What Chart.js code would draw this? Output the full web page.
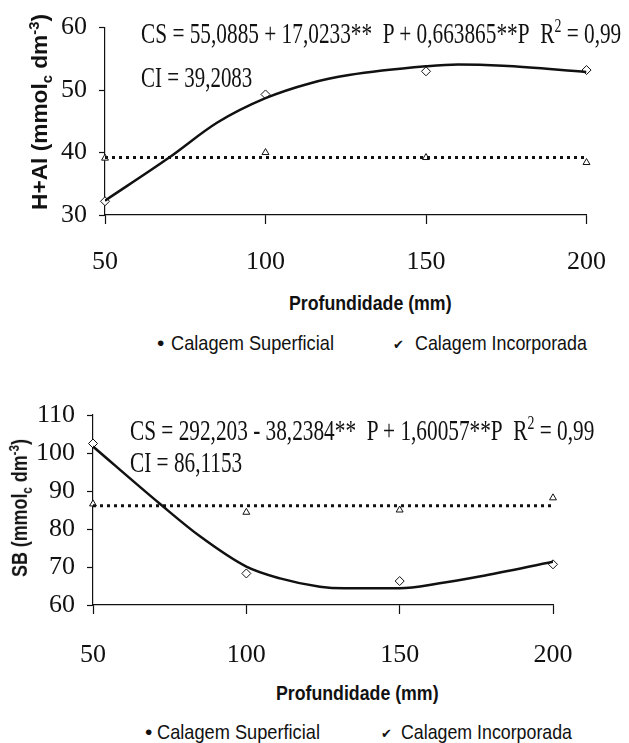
<!DOCTYPE html>
<html lang="pt">
  <head>
    <meta charset="UTF-8" />
    <style>
      body { margin: 0; background: #fff; }
      #page { position: relative; width: 629px; height: 743px; overflow: hidden; }
      canvas { position: absolute; left: 0; }
      .t { position: absolute; white-space: nowrap; color: #111; line-height: 1; }
      .serif { font-family: "Liberation Serif", "DejaVu Serif", serif; font-size: 30px; }
      .sans { font-family: "Liberation Sans Narrow", "Liberation Sans", Arial, sans-serif; font-size: 21px; }
      .bold { font-weight: bold; }
      .yt { font-size: 22px; }
      sub, sup { font-size: 65%; line-height: 0; }
    </style>
  </head>
  <body>
    <div id="page">
      <div id="box1" style="position:absolute;left:0;top:0;width:629px;height:290px">
        <canvas id="chart1"></canvas>
      </div>
      <div id="box2" style="position:absolute;left:0;top:380px;width:629px;height:300px">
        <canvas id="chart2"></canvas>
      </div>

      <div class="t serif" data-x="141" data-y="33" data-w="480">CS = 55,0885 + 17,0233**&nbsp; P + 0,663865**P&nbsp; R<sup>2</sup> = 0,99</div>
      <div class="t serif" data-x="141" data-y="77" data-w="111">CI = 39,2083</div>
      <div class="t sans bold yt" data-cx="40" data-y="112" data-w="196" data-rot="1">H+Al (mmol<sub>c</sub> dm<sup>-3</sup>)</div>
      <div class="t sans bold" data-cx="370" data-y="302" data-w="163">Profundidade (mm)</div>
      <div class="t sans" data-x="157" data-y="342">•</div>
      <div class="t sans" data-x="171" data-y="342" data-w="163">Calagem Superficial</div>
      <div class="t sans" style="font-size:13px" data-x="393" data-y="344">✔</div>
      <div class="t sans" data-x="415" data-y="342" data-w="172">Calagem Incorporada</div>

      <div class="t serif" data-x="130" data-y="430" data-w="464">CS = 292,203 - 38,2384**&nbsp; P + 1,60057**P&nbsp; R<sup>2</sup> = 0,99</div>
      <div class="t serif" data-x="130" data-y="462" data-w="112">CI = 86,1153</div>
      <div class="t sans bold yt" data-cx="20" data-y="508" data-w="138" data-rot="1">SB (mmol<sub>c</sub> dm<sup>-3</sup>)</div>
      <div class="t sans bold" data-cx="357" data-y="692" data-w="163">Profundidade (mm)</div>
      <div class="t sans" data-x="145" data-y="731">•</div>
      <div class="t sans" data-x="157" data-y="731" data-w="163">Calagem Superficial</div>
      <div class="t sans" style="font-size:13px" data-x="381" data-y="733">✔</div>
      <div class="t sans" data-x="401" data-y="731" data-w="171">Calagem Incorporada</div>
    </div>

    <script src="https://cdn.jsdelivr.net/npm/chart.js@4.4.1/dist/chart.umd.min.js"></script>
    <script>
      // profundidade (mm)
      const depth = [50, 100, 150, 200];

      // H+Al
      const hAlSuperficial = [32.2, 49.3, 53.0, 53.2];
      const hAlIncorporada = [39.1, 40.0, 39.2, 38.4];
      const hAlCurveX = [50, 70, 85, 100, 114, 126, 150, 160, 174, 200];
      const hAlCurveY = [32.3, 39.2, 44.8, 48.7, 51.1, 52.4, 53.8, 54.1, 53.9, 52.9];
      const hAlCI = 39.2083;

      // SB
      const sbSuperficial = [102.5, 68.3, 66.3, 70.7];
      const sbIncorporada = [86.6, 84.4, 85.0, 88.2];
      const sbCurveX = [50, 72, 85, 100, 111, 124, 132, 150, 163, 176, 200];
      const sbCurveY = [101.7, 86.5, 78.0, 70.1, 67.0, 64.8, 64.4, 64.4, 65.7, 67.5, 71.4];
      const sbCI = 86.1153;

      const serif = "'Liberation Serif', 'DejaVu Serif', serif";

      function pts(xs, ys) {
        return xs.map((x, i) => ({ x: x, y: ys[i] }));
      }

      function makeChart(id, cfg) {
        const ink = "#111";
        return new Chart(document.getElementById(id), {
          type: "scatter",
          data: {
            datasets: [
              {
                data: pts(cfg.curveX, cfg.curveY),
                showLine: true,
                borderColor: ink,
                borderWidth: 2.5,
                pointRadius: 0,
                cubicInterpolationMode: "monotone",
              },
              {
                data: pts([depth[0], depth[depth.length - 1]], [cfg.ci, cfg.ci]),
                showLine: true,
                borderColor: ink,
                borderWidth: 3,
                borderDash: [3, 4],
                pointRadius: 0,
              },
              {
                data: pts(depth, cfg.sup),
                clip: false,
                pointStyle: "rectRot",
                pointRadius: 4.5,
                pointBackgroundColor: "#fff",
                pointBorderColor: ink,
                pointBorderWidth: 1,
              },
              {
                data: pts(depth, cfg.inc),
                clip: false,
                pointStyle: "triangle",
                pointRadius: 4,
                pointBackgroundColor: "#fff",
                pointBorderColor: ink,
                pointBorderWidth: 1,
              },
            ],
          },
          options: {
            responsive: true,
            maintainAspectRatio: false,
            animation: false,
            layout: { padding: { left: 0, right: cfg.padRight, top: cfg.padTop, bottom: 0 } },
            plugins: { legend: { display: false }, tooltip: { enabled: false } },
            scales: {
              x: {
                type: "linear",
                min: 50,
                max: 200,
                afterFit: (s) => { s.height = cfg.xHeight; },
                border: { color: ink, width: 1.2 },
                grid: { drawOnChartArea: false, color: ink, tickLength: 9, tickWidth: 1.2 },
                ticks: {
                  stepSize: 50,
                  padding: cfg.xPad,
                  color: ink,
                  font: { family: serif, size: 26 },
                },
              },
              y: {
                min: cfg.yMin,
                max: cfg.yMax,
                afterFit: (s) => { s.width = cfg.yWidth; },
                border: { color: ink, width: 1.2 },
                grid: { drawOnChartArea: false, color: ink, tickLength: 6, tickWidth: 1.2 },
                ticks: {
                  stepSize: 5,
                  padding: 12,
                  color: ink,
                  font: { family: serif, size: 26 },
                  callback: (v) => (v % 10 === 0 ? v : ""),
                },
              },
            },
          },
        });
      }

      const charts = [
        makeChart("chart1", {
          curveX: hAlCurveX, curveY: hAlCurveY, ci: hAlCI,
          sup: hAlSuperficial, inc: hAlIncorporada,
          yMin: 30, yMax: 60, yWidth: 105, padRight: 21, padTop: 23, xHeight: 75, xPad: 23,
        }),
        makeChart("chart2", {
          curveX: sbCurveX, curveY: sbCurveY, ci: sbCI,
          sup: sbSuperficial, inc: sbIncorporada,
          yMin: 60, yMax: 110, yWidth: 93, padRight: 76, padTop: 35, xHeight: 75, xPad: 26,
        }),
      ];

      // redraw once the serif face is ready for the canvas
      document.fonts.load("26px 'Liberation Serif'").then(() => {
        charts.forEach((c) => c.update());
      });

      // place the text labels
      document.querySelectorAll("#page .t").forEach((el) => {
        const w0 = el.offsetWidth, h0 = el.offsetHeight;
        const d = el.dataset;
        const sx = d.w ? +d.w / w0 : 1;
        if (d.rot) {
          el.style.left = +d.cx - w0 / 2 + "px";
          el.style.top = +d.y - h0 / 2 + "px";
          el.style.transform = "rotate(-90deg) scaleX(" + sx + ")";
        } else if (d.cx) {
          el.style.left = +d.cx - w0 / 2 + "px";
          el.style.top = +d.y - h0 / 2 + "px";
          el.style.transform = "scaleX(" + sx + ")";
        } else {
          el.style.left = d.x + "px";
          el.style.top = +d.y - h0 / 2 + "px";
          el.style.transformOrigin = "left center";
          el.style.transform = "scaleX(" + sx + ")";
        }
      });
    </script>
  </body>
</html>
